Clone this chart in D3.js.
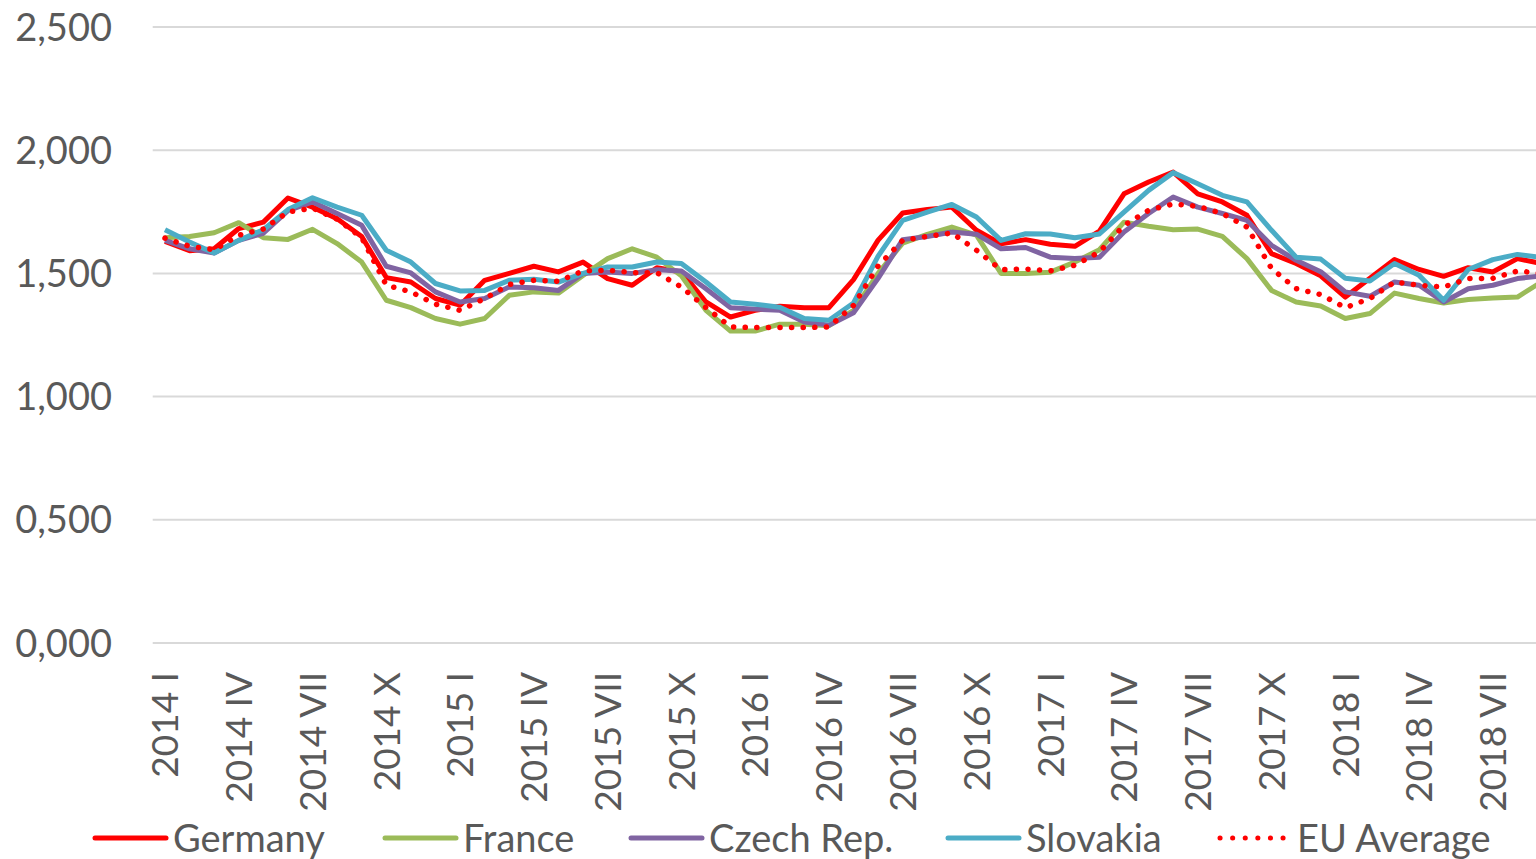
<!DOCTYPE html>
<html>
<meta charset="utf-8">
<head>
<script src="https://d3js.org/d3.v7.min.js"></script>
<style>
  body { margin: 0; background: #fff; }
  text { font-family: Lato, "Open Sans", sans-serif; fill: #595959; }
</style>
</head>
<body>
<div id="chart"></div>
<script>
// month categories (2014 I ... 2018 XII)
var years = ["2014", "2015", "2016", "2017", "2018"];
var romans = ["I", "II", "III", "IV", "V", "VI", "VII", "VIII", "IX", "X", "XI", "XII"];
var months = [];
years.forEach(function(y) { romans.forEach(function(r) { months.push(y + " " + r); }); });

// series values, one per month from 2014 I
var germany = [1630, 1592, 1600, 1682, 1708, 1806, 1769, 1722, 1650, 1483,
  1465, 1398, 1371, 1472, 1500, 1529, 1506, 1546, 1479, 1452,
  1523, 1506, 1384, 1323, 1350, 1367, 1361, 1361, 1475, 1635,
  1745, 1759, 1769, 1675, 1620, 1637, 1618, 1610, 1672, 1823,
  1871, 1911, 1823, 1790, 1736, 1580, 1540, 1490, 1404, 1480,
  1556, 1516, 1488, 1523, 1506, 1560, 1540];
var france = [1645, 1650, 1665, 1706, 1645, 1638, 1679, 1621, 1546, 1391,
  1361, 1317, 1294, 1317, 1411, 1425, 1420, 1492, 1560, 1600,
  1566, 1490, 1350, 1266, 1266, 1294, 1294, 1288, 1350, 1500,
  1623, 1658, 1688, 1655, 1500, 1500, 1505, 1546, 1596, 1708,
  1691, 1677, 1680, 1650, 1560, 1431, 1384, 1368, 1317, 1337,
  1420, 1398, 1380, 1394, 1400, 1404, 1467];
var czech = [1634, 1600, 1583, 1634, 1663, 1755, 1790, 1743, 1695, 1529,
  1502, 1425, 1384, 1398, 1445, 1442, 1431, 1500, 1506, 1500,
  1515, 1510, 1438, 1361, 1355, 1350, 1303, 1290, 1340, 1480,
  1637, 1650, 1668, 1659, 1600, 1605, 1566, 1560, 1566, 1668,
  1743, 1810, 1769, 1743, 1715, 1614, 1553, 1507, 1425, 1407,
  1465, 1452, 1384, 1438, 1452, 1479, 1490];
var slovakia = [1677, 1627, 1583, 1634, 1677, 1759, 1807, 1769, 1736, 1594,
  1546, 1459, 1429, 1431, 1472, 1476, 1465, 1500, 1526, 1526,
  1546, 1540, 1465, 1384, 1375, 1363, 1317, 1310, 1380, 1570,
  1715, 1749, 1780, 1729, 1634, 1661, 1660, 1645, 1660, 1749,
  1837, 1909, 1864, 1817, 1790, 1675, 1566, 1558, 1480, 1469,
  1540, 1492, 1391, 1516, 1556, 1577, 1565];
var euAverage = [1643, 1610, 1596, 1655, 1680, 1749, 1765, 1720, 1645, 1452,
  1425, 1375, 1350, 1398, 1455, 1472, 1468, 1510, 1513, 1503,
  1503, 1445, 1361, 1283, 1280, 1280, 1280, 1283, 1370, 1530,
  1634, 1650, 1664, 1594, 1515, 1518, 1510, 1533, 1587, 1695,
  1756, 1782, 1772, 1743, 1688, 1520, 1438, 1414, 1361, 1398,
  1465, 1452, 1445, 1479, 1480, 1510, 1500];

var yTicks = [0, 500, 1000, 1500, 2000, 2500];

var series = [
  {name: "Germany", values: germany, color: "#FF0000", dash: null},
  {name: "France", values: france, color: "#9BBB59", dash: null},
  {name: "Czech Rep.", values: czech, color: "#8064A2", dash: null},
  {name: "Slovakia", values: slovakia, color: "#4BACC6", dash: null},
  {name: "EU Average", values: euAverage, color: "#FF0000", dash: "0.1,11.5"}
];
// legend slot positions (line start)
var legendX = [95, 385, 631, 948, 1218];

var width = 1536, height = 859;
var left = 152.7, step = 24.59;

var svg = d3.select("#chart").append("svg")
  .attr("width", width)
  .attr("height", height);

svg.append("rect").attr("width", width).attr("height", height).attr("fill", "#fff");

var x = d3.scaleBand()
  .domain(months)
  .range([left, left + step * months.length]);

var y = d3.scaleLinear()
  .domain([0, 2500])
  .range([643, 27]);

// gridlines
svg.append("g").selectAll("line")
  .data(yTicks)
  .enter().append("line")
  .attr("x1", left).attr("x2", width)
  .attr("y1", function(d) { return y(d); })
  .attr("y2", function(d) { return y(d); })
  .attr("stroke", "#d9d9d9")
  .attr("stroke-width", 2);

// y labels, e.g. 0,500
svg.append("g").selectAll("text")
  .data(yTicks)
  .enter().append("text")
  .attr("x", 112)
  .attr("y", function(d) { return y(d); })
  .attr("dy", "0.36em")
  .attr("text-anchor", "end")
  .style("font-size", "38px")
  .text(function(d) { return (d / 1000).toFixed(3).replace(".", ","); });

// x labels every third month, only those inside the visible plot
svg.append("g").selectAll("text")
  .data(months.filter(function(d, i) {
    return i % 3 === 0 && x(d) + x.bandwidth() / 2 < width - 20;
  }))
  .enter().append("text")
  .attr("transform", function(d) {
    return "translate(" + (x(d) + x.bandwidth() / 2) + ",672) rotate(-90)";
  })
  .attr("dy", "0.36em")
  .attr("text-anchor", "end")
  .style("font-size", "37px")
  .text(function(d) { return d; });

var line = d3.line()
  .x(function(d, i) { return x(months[i]) + x.bandwidth() / 2; })
  .y(function(d) { return y(d); });

svg.append("g").selectAll("path")
  .data(series)
  .enter().append("path")
  .attr("d", function(s) { return line(s.values); })
  .attr("fill", "none")
  .attr("stroke", function(s) { return s.color; })
  .attr("stroke-width", function(s) { return s.dash ? 5.5 : 5; })
  .attr("stroke-linejoin", "round")
  .attr("stroke-linecap", function(s) { return s.dash ? "round" : "butt"; })
  .attr("stroke-dasharray", function(s) { return s.dash; });

// legend
var legend = svg.append("g").selectAll("g")
  .data(series)
  .enter().append("g")
  .attr("transform", function(s, i) { return "translate(" + legendX[i] + ",838)"; });

legend.append("line")
  .attr("x1", function(s) { return s.dash ? 2 : 0; })
  .attr("x2", function(s) { return s.dash ? 66 : 71; })
  .attr("stroke", function(s) { return s.color; })
  .attr("stroke-width", 5)
  .attr("stroke-linecap", "round")
  .attr("stroke-dasharray", function(s) { return s.dash ? "0.1,12.5" : null; });

legend.append("text")
  .attr("x", function(s) { return s.dash ? 79 : 78; })
  .attr("dy", "0.36em")
  .style("font-size", "38px")
  .text(function(s) { return s.name; });
</script>
</body>
</html>
